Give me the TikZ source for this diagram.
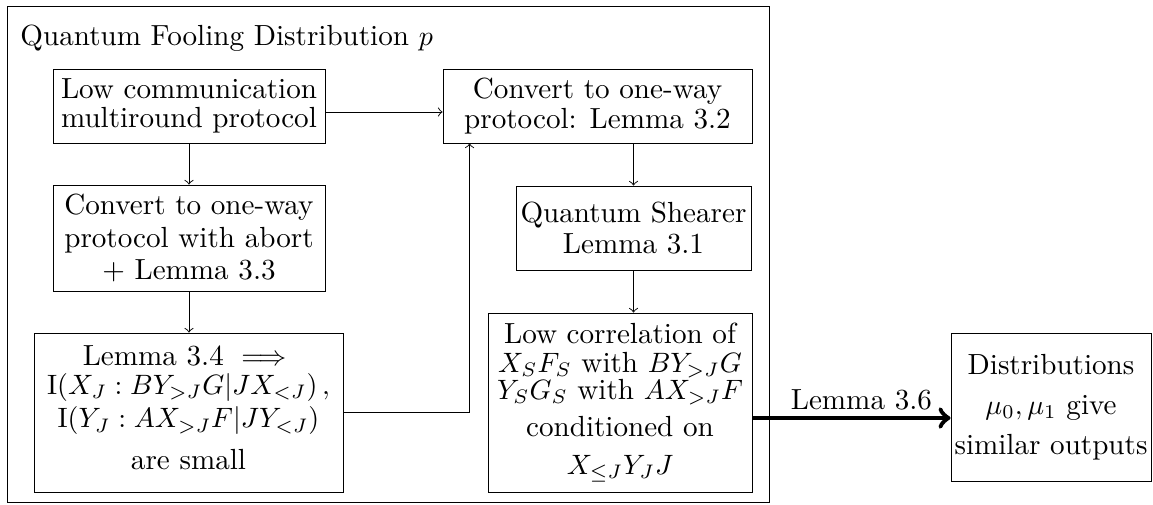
\documentclass[tikz,border=0pt]{standalone}
\usepackage{amsmath}
\newdimen\pxu \pxu=0.35714pt
\newcommand{\fsz}[1]{\fontsize{10.4pt}{#1}\selectfont}
\begin{document}
\begin{tikzpicture}[x=0.35714pt,y=-0.35714pt,
  line width=0.32pt,
  box/.style={draw, align=center, inner sep=0pt},
  arr/.style={->},
  bigarr/.style={->, line width=1.7pt},
]
\useasboundingbox (0,0) rectangle (1153,504);
\node[box, minimum width=762*\pxu, minimum height=496*\pxu] (outer) at (388,254) {};
\node[anchor=base west, inner sep=0pt, font=\fsz{12pt}] (title) at (20,45) {Quantum Fooling Distribution $p$};
\node[box, font=\fsz{10.46pt}, minimum width=272*\pxu, minimum height=74*\pxu] (A) at (189,106) {Low communication\\multiround protocol};
\node[box, font=\fsz{11.6pt}, minimum width=272*\pxu, minimum height=106*\pxu] (B) at (189,238) {Convert to one-way\\protocol with abort\\+ Lemma 3.3};
\node[box, font=\fsz{10.5pt}, minimum width=309*\pxu, minimum height=159*\pxu] (C) at (188.5,412.5) {Lemma 3.4 $\implies$\\[0pt]$\mathrm{I}(X_J : BY_{>J}G|JX_{<J})\,,$\\[1.4pt]$\mathrm{I}(Y_J : AX_{>J}F|JY_{<J})$\\[4.4pt]are small\rule[-3.6pt]{0pt}{3.6pt}};
\node[box, font=\fsz{10.46pt}, minimum width=309*\pxu, minimum height=74*\pxu] (D) at (597.5,106) {Convert to one-way\\protocol: Lemma 3.2};
\node[box, font=\fsz{11.3pt}, minimum width=235*\pxu, minimum height=84*\pxu] (E) at (633.5,228) {Quantum Shearer\\Lemma 3.1};
\node[box, font=\fsz{9.75pt}, minimum width=264*\pxu, minimum height=179*\pxu] (F) at (620,402.5) {Low correlation of\\[0.5pt]$X_SF_S$ with $BY_{>J}G$\\$Y_SG_S$ with $AX_{>J}F$\\[3.6pt]conditioned on\\[3.7pt]$X_{\leq J}Y_JJ$};
\node[box, font=\fsz{14.3pt}, minimum width=200*\pxu, minimum height=148*\pxu] (G) at (1051,407) {Distributions\\$\mu_0,\mu_1$ give\\similar outputs};
\draw[arr] ([yshift=-6*\pxu]A.east) -- ([yshift=-6*\pxu]D.west);
\draw[arr] (A.south) -- (A.south |- B.north);
\draw[arr] (B.south) -- (B.south |- C.north);
\draw[arr] (C.east) -| ([xshift=27*\pxu]D.south west);
\draw[arr] (E.north |- D.south) -- (E.north);
\draw[arr] (E.south) -- (E.south |- F.north);
\draw[bigarr] ([yshift=-15.5*\pxu]F.east) -- node[pos=0.55, above, inner sep=2pt, font=\fsz{12pt}] {Lemma 3.6} ([yshift=-11*\pxu]G.west);
\end{tikzpicture}
\end{document}
